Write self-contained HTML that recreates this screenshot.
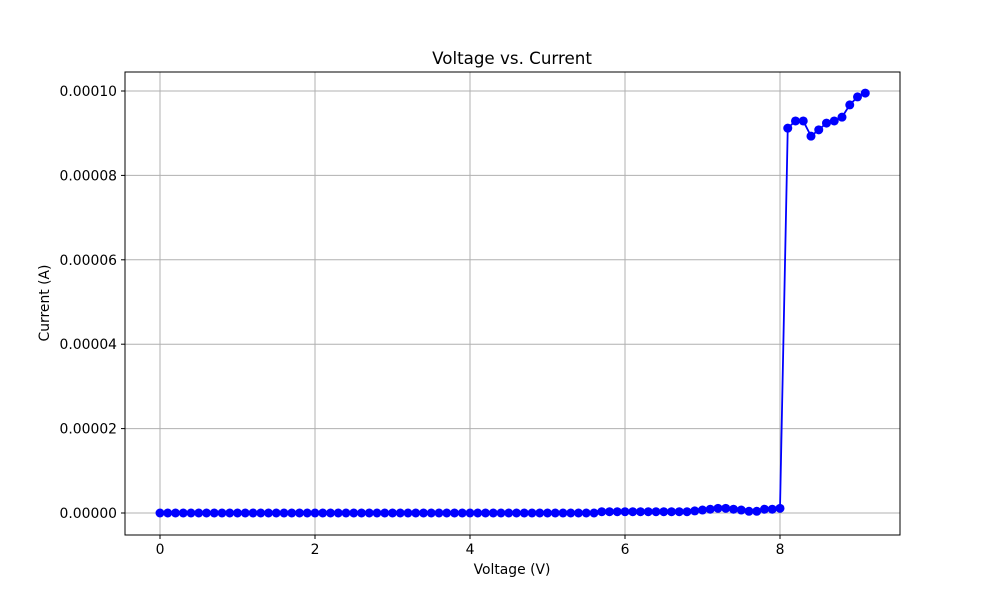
<!DOCTYPE html>
<html><head><meta charset="utf-8"><style>
body{margin:0;background:#fff;font-family:"DejaVu Sans","Liberation Sans",sans-serif}
</style></head><body>
<svg id="chart" width="1000" height="600" style="display:block;font-family:'DejaVu Sans','Liberation Sans',sans-serif">
<rect width="1000" height="600" fill="#fff"/>
<g id="grid"></g>
<g id="series"></g>
<rect x="125" y="72" width="775" height="463" fill="none" stroke="#000" stroke-width="1"/>
<g id="ticks" font-size="13.9" fill="#000"></g>
<text x="512" y="64" text-anchor="middle" font-size="16.7">Voltage vs. Current</text>
<text x="512" y="574" text-anchor="middle" font-size="13.9">Voltage (V)</text>
<text x="49" y="303" text-anchor="middle" font-size="13.9" transform="rotate(-90 49 303)">Current (A)</text>
</svg>
<script>
const currentLow = [0,0,0,0,0,0,0,0,0,0,0,0,0,0,0,0,0,0,0,0,0,0,0,0,0,0,0,0,0,0,0,0,0,0,0,0,0,0,0,0,0,0,0,0,0,0,0,0,0,0,0,0,0,0,0,0,0,
0.3e-6,0.3e-6,0.3e-6,0.3e-6,0.3e-6,0.3e-6,0.3e-6,0.3e-6,0.3e-6,0.3e-6,0.3e-6,0.3e-6,0.5e-6,0.7e-6,0.9e-6,1.1e-6,1.1e-6,0.9e-6,0.7e-6,0.4e-6,0.4e-6,0.9e-6,0.9e-6,1.1e-6];
const currentHigh = [9.12e-5,9.29e-5,9.29e-5,8.93e-5,9.08e-5,9.24e-5,9.29e-5,9.38e-5,9.67e-5,9.86e-5,9.95e-5];
const current = currentLow.concat(currentHigh);
const voltage = current.map((_, i) => Math.round(i) / 10);
const xTicks = [0,2,4,6,8];
const yTicks = [0,0.00002,0.00004,0.00006,0.00008,0.0001];
const yTickLabels = ["0.00000","0.00002","0.00004","0.00006","0.00008","0.00010"];
const NS="http://www.w3.org/2000/svg";
const X = v => 160 + v * 77.5;
const Y = c => 513 - c * 4220000;
function mk(tag, attrs, parent){const e=document.createElementNS(NS,tag);for(const k in attrs)e.setAttribute(k,attrs[k]);parent.appendChild(e);return e;}
const grid=document.getElementById('grid'), ticks=document.getElementById('ticks'), series=document.getElementById('series');
xTicks.forEach(t=>{
  const l=mk('line',{x1:X(t),x2:X(t),y1:72,y2:535,stroke:'#b0b0b0','stroke-width':1},grid);
  
  
  const m=mk('line',{x1:X(t),x2:X(t),y1:535,y2:539,stroke:'#000'},ticks);
  
  
  const tx=mk('text',{x:X(t),y:554,'text-anchor':'middle'},ticks);tx.textContent=t;
  
  
});
yTicks.forEach((t,i)=>{
  const l=mk('line',{x1:125,x2:900,y1:Y(t),y2:Y(t),stroke:'#b0b0b0','stroke-width':1},grid);
  
  
  const m=mk('line',{x1:121,x2:125,y1:Y(t),y2:Y(t),stroke:'#000'},ticks);
  
  
  const tx=mk('text',{x:117,y:Y(t)+5,'text-anchor':'end'},ticks);tx.textContent=yTickLabels[i];
  
  
});
const pts=voltage.map((v,i)=>X(v)+','+Y(current[i])).join(' ');
const pl=mk('polyline',{points:pts,fill:'none',stroke:'#0000ff','stroke-width':1.8},series);


voltage.forEach((v,i)=>{
  const c=mk('circle',{cx:X(v),cy:Y(current[i]),r:4.5,fill:'#0000ff'},series);
  
  
});
</script>
</body></html>
